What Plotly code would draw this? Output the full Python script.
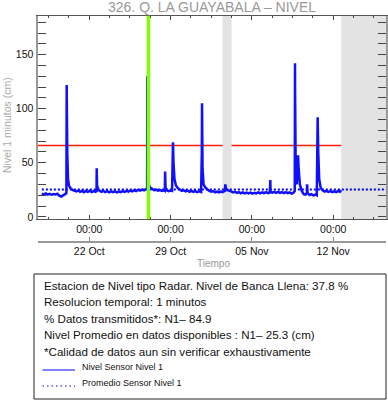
import plotly.graph_objects as go

# ---------------- data ----------------
times = [
    "2023-10-17 22:00", "2023-10-18 02:00", "2023-10-18 06:00", "2023-10-18 10:00", "2023-10-18 14:00",
    "2023-10-18 18:00", "2023-10-18 22:00", "2023-10-19 02:00", "2023-10-19 06:00", "2023-10-19 10:00",
    "2023-10-19 14:00", "2023-10-19 18:00", "2023-10-19 22:00", "2023-10-20 00:40", "2023-10-20 01:00",
    "2023-10-20 01:15", "2023-10-20 01:20", "2023-10-20 01:25", "2023-10-20 02:30", "2023-10-20 04:00",
    "2023-10-20 06:00", "2023-10-20 09:00", "2023-10-20 13:00", "2023-10-20 17:00", "2023-10-20 21:00",
    "2023-10-21 01:00", "2023-10-21 05:00", "2023-10-21 09:00", "2023-10-21 13:00", "2023-10-21 17:00",
    "2023-10-21 21:00", "2023-10-22 01:00", "2023-10-22 05:00", "2023-10-22 09:00", "2023-10-22 13:00",
    "2023-10-22 15:00", "2023-10-22 15:20", "2023-10-22 16:00", "2023-10-22 18:00", "2023-10-22 21:00",
    "2023-10-23 01:00", "2023-10-23 05:00", "2023-10-23 09:00", "2023-10-23 13:00", "2023-10-23 17:00",
    "2023-10-23 21:00", "2023-10-24 01:00", "2023-10-24 05:00", "2023-10-24 09:00", "2023-10-24 13:00",
    "2023-10-24 17:00", "2023-10-24 21:00", "2023-10-25 01:00", "2023-10-25 05:00", "2023-10-25 09:00",
    "2023-10-25 13:00", "2023-10-25 17:00", "2023-10-25 21:00", "2023-10-26 01:00", "2023-10-26 05:00",
    "2023-10-26 09:00", "2023-10-26 13:00", "2023-10-26 17:00", "2023-10-26 21:00", "2023-10-26 23:30",
    "2023-10-26 23:50", "2023-10-27 00:00", "2023-10-27 00:10", "2023-10-27 01:00", "2023-10-27 03:00",
    "2023-10-27 06:00", "2023-10-27 10:00", "2023-10-27 14:00", "2023-10-27 18:00", "2023-10-27 22:00",
    "2023-10-28 02:00", "2023-10-28 06:00", "2023-10-28 10:00", "2023-10-28 12:00", "2023-10-28 12:40",
    "2023-10-28 13:30", "2023-10-28 16:00", "2023-10-28 20:00", "2023-10-29 00:00", "2023-10-29 03:00",
    "2023-10-29 04:30", "2023-10-29 04:50", "2023-10-29 06:00", "2023-10-29 08:00", "2023-10-29 11:00",
    "2023-10-29 15:00", "2023-10-29 19:00", "2023-10-29 23:00", "2023-10-30 03:00", "2023-10-30 07:00",
    "2023-10-30 11:00", "2023-10-30 15:00", "2023-10-30 19:00", "2023-10-30 23:00", "2023-10-31 03:00",
    "2023-10-31 07:00", "2023-10-31 11:00", "2023-10-31 15:00", "2023-10-31 16:30", "2023-10-31 16:50",
    "2023-10-31 16:55", "2023-10-31 17:00", "2023-10-31 18:00", "2023-10-31 20:00", "2023-11-01 00:00",
    "2023-11-01 04:00", "2023-11-01 08:00", "2023-11-01 12:00", "2023-11-01 16:00", "2023-11-01 20:00",
    "2023-11-02 00:00", "2023-11-02 04:00", "2023-11-02 08:00", "2023-11-02 11:00", "2023-11-02 16:00",
    "2023-11-02 17:00", "2023-11-02 19:00", "2023-11-03 05:00", "2023-11-03 09:00", "2023-11-03 13:00",
    "2023-11-03 17:00", "2023-11-03 21:00", "2023-11-04 01:00", "2023-11-04 05:00", "2023-11-04 09:00",
    "2023-11-04 13:00", "2023-11-04 17:00", "2023-11-04 21:00", "2023-11-05 01:00", "2023-11-05 05:00",
    "2023-11-05 09:00", "2023-11-05 13:00", "2023-11-05 17:00", "2023-11-05 21:00", "2023-11-06 01:00",
    "2023-11-06 05:00", "2023-11-06 09:00", "2023-11-06 13:00", "2023-11-06 14:00", "2023-11-06 14:30",
    "2023-11-06 18:00", "2023-11-06 22:00", "2023-11-07 02:00", "2023-11-07 06:00", "2023-11-07 10:00",
    "2023-11-07 14:00", "2023-11-07 18:00", "2023-11-07 22:00", "2023-11-08 02:00", "2023-11-08 06:00",
    "2023-11-08 10:00", "2023-11-08 14:00", "2023-11-08 16:30", "2023-11-08 16:50", "2023-11-08 17:00",
    "2023-11-08 17:10", "2023-11-08 18:30", "2023-11-08 20:30", "2023-11-08 23:00", "2023-11-08 23:20",
    "2023-11-09 00:30", "2023-11-09 03:00", "2023-11-09 07:00", "2023-11-09 11:00", "2023-11-09 15:00",
    "2023-11-09 17:30", "2023-11-09 18:00", "2023-11-09 19:00", "2023-11-09 23:00", "2023-11-10 03:00",
    "2023-11-10 07:00", "2023-11-10 11:00", "2023-11-10 14:00", "2023-11-10 15:30", "2023-11-10 15:50",
    "2023-11-10 17:00", "2023-11-10 19:00", "2023-11-10 22:00", "2023-11-11 02:00", "2023-11-11 06:00",
    "2023-11-11 10:00", "2023-11-11 14:00", "2023-11-11 18:00", "2023-11-11 22:00", "2023-11-12 02:00",
    "2023-11-12 06:00", "2023-11-12 10:00", "2023-11-12 14:00", "2023-11-12 16:20",
]
level = [
    21.5, 20.8, 21.6, 20.5, 21.2,
    20.4, 21.0, 20.6, 21.3, 19.5,
    18.8, 19.6, 21.0, 22.0, 60.0,
    115.0, 122.0, 114.0, 60.0, 35.0,
    29.0, 26.5, 25.0, 24.2, 23.6,
    24.3, 23.2, 24.0, 22.8, 23.9,
    23.1, 24.1, 23.0, 23.8, 23.2,
    23.8, 45.0, 30.0, 25.0, 24.0,
    23.2, 24.0, 22.9, 23.7, 22.6,
    23.5, 22.8, 23.6, 22.7, 23.4,
    22.9, 23.8, 23.0, 24.0, 23.3,
    24.2, 23.5, 24.6, 23.9, 25.0,
    24.3, 25.2, 24.5, 25.6, 26.5,
    124.0, 130.0, 123.0, 45.0, 30.0,
    27.0, 25.5, 24.6, 25.1, 24.2,
    24.8, 23.9, 24.5, 24.0, 42.0,
    27.0, 24.5, 23.8, 24.4, 24.0,
    60.0, 69.0, 50.0, 35.0, 29.0,
    26.5, 25.3, 24.1, 24.6, 23.5,
    24.3, 23.2, 24.0, 23.1, 23.8,
    22.8, 23.6, 23.0, 60.0, 100.0,
    105.0, 99.0, 45.0, 30.0, 27.0,
    25.2, 24.0, 23.2, 23.8, 22.7,
    23.4, 22.6, 23.3, 22.8, 24.0,
    30.0, 25.0, 23.5, 22.6, 23.2,
    22.1, 22.9, 21.8, 22.6, 21.7,
    22.5, 21.6, 22.4, 21.5, 22.3,
    21.7, 22.6, 21.8, 22.7, 21.9,
    22.8, 22.0, 22.5, 34.0, 23.0,
    22.4, 23.1, 22.2, 23.0, 22.1,
    22.9, 22.0, 22.8, 21.9, 22.6,
    21.5, 22.3, 24.0, 120.0, 142.0,
    118.0, 40.0, 30.0, 50.0, 57.0,
    45.0, 30.0, 24.0, 21.0, 20.5,
    22.0, 30.0, 22.0, 20.2, 21.0,
    19.8, 20.6, 20.0, 85.0, 92.0,
    60.0, 35.0, 27.0, 24.5, 23.4,
    24.0, 23.0, 23.7, 22.8, 23.6,
    22.9, 23.8, 23.2, 24.5,
]
avg_level = 25.3
bank_level = 66.0
event_times = ["2023-10-27 02:10"]
gap_starts = ["2023-11-02 11:20", "2023-11-12 16:20"]
gap_ends = ["2023-11-03 06:00", "2023-11-16 13:00"]
x_range = ["2023-10-17 13:00", "2023-11-16 13:00"]
y_range = [-2, 186]
first_week_tick = "2023-10-22"

title_text = "326. Q. LA GUAYABALA \u2013 NIVEL"
info_lines = [
    "Estacion de Nivel tipo Radar. Nivel de Banca Llena: 37.8 %",
    "Resolucion temporal: 1 minutos",
    "% Datos transmitidos*: N1\u2013 84.9",
    "Nivel Promedio en datos disponibles : N1\u2013 25.3 (cm)",
    "*Calidad de datos aun sin verificar exhaustivamente",
]
legend_names = ["Nivel Sensor Nivel 1", "Promedio Sensor Nivel 1"]

# ---------------- layout helpers ----------------
W, H = 388, 404
FONT = "Liberation Sans, Arial, sans-serif"
WEEK_MS = 7 * 24 * 3600 * 1000


def px(x):
    return x / W


def py(y):
    return 1 - y / H


fig = go.Figure()

fig.add_trace(go.Scatter(
    x=[times[0], x_range[1]], y=[avg_level, avg_level], mode="lines",
    line=dict(color="#0000ff", width=2, dash="2px,2px"), hoverinfo="skip", showlegend=False))

fig.add_trace(go.Scatter(
    x=[x_range[0], gap_starts[0], None, gap_ends[0], gap_starts[1]],
    y=[bank_level, bank_level, None, bank_level, bank_level], mode="lines",
    line=dict(color="#ff1a00", width=1.5), hoverinfo="skip", showlegend=False, connectgaps=False))

fig.add_trace(go.Scatter(
    x=times, y=level, mode="lines",
    line=dict(color="#1010ff", width=2.5), showlegend=False))

fig.add_trace(go.Scatter(
    x=x_range, y=[None, None], xaxis="x2", yaxis="y", mode="lines",
    hoverinfo="skip", showlegend=False))

for s, e in zip(gap_starts, gap_ends):
    fig.add_shape(type="rect", xref="x", yref="y domain", x0=s, x1=e, y0=0, y1=1,
                  fillcolor="#e3e3e3", line_width=0, layer="below")

for t in event_times:
    fig.add_shape(type="line", xref="x", yref="y domain", x0=t, x1=t, y0=0, y1=1,
                  line=dict(color="#7fff00", width=3.5), layer="above")

x_dom = [px(37.5), px(386)]
fig.update_layout(
    template="none",
    width=W, height=H,
    margin=dict(l=0, r=0, t=0, b=0, pad=0, autoexpand=False),
    paper_bgcolor="white", plot_bgcolor="white",
    font=dict(family=FONT, size=10.5, color="#111"),
    showlegend=False,
    xaxis=dict(
        domain=x_dom, range=x_range, type="date", automargin=False,
        tick0=first_week_tick, dtick=WEEK_MS, tickformat="%H:%M",
        ticks="inside", ticklen=4, tickcolor="#444",
        minor=dict(dtick=WEEK_MS / 4, tick0=first_week_tick, ticks="inside", ticklen=2.5, tickcolor="#444", showgrid=False),
        showline=True, linecolor="#555", linewidth=1, mirror="allticks",
        showgrid=False, zeroline=False, tickfont=dict(size=10.5, color="#111"),
    ),
    xaxis2=dict(
        overlaying="x", anchor="free", position=py(242), range=x_range, type="date", automargin=False,
        tick0=first_week_tick, dtick=WEEK_MS, tickformat="%d %b",
        ticks="inside", ticklen=4, tickcolor="#888",
        showline=True, linecolor="#999", linewidth=1.5,
        showgrid=False, zeroline=False, side="bottom", tickfont=dict(size=10.5, color="#111"),
    ),
    yaxis=dict(
        domain=[py(219), py(15.7)], range=y_range, automargin=False,
        tick0=0, dtick=50,
        ticks="inside", ticklen=8, tickcolor="#444",
        minor=dict(dtick=10, tick0=0, ticks="inside", ticklen=4.5, tickcolor="#444", showgrid=False),
        showline=True, linecolor="#999", linewidth=2, mirror="allticks",
        showgrid=False, zeroline=False, tickfont=dict(size=10.5, color="#111"),
    ),
)

annotations = [
    dict(x=px(212), y=py(7), text=title_text, showarrow=False, xanchor="center", yanchor="middle",
         font=dict(size=14, color="#999")),
    dict(x=px(213), y=py(263.5), text="Tiempo", showarrow=False, xanchor="center", yanchor="middle",
         font=dict(size=10, color="#999")),
    dict(x=px(7), y=py(125), text="Nivel 1 minutos (cm)", showarrow=False, textangle=-90,
         xanchor="center", yanchor="middle", font=dict(size=10.5, color="#aaa")),
]
line_y = [285, 301.5, 318, 334.5, 351]
for txt, yy in zip(info_lines, line_y):
    annotations.append(dict(x=px(42), y=py(yy), text=txt, showarrow=False, xanchor="left",
                            yanchor="middle", font=dict(size=11.6, color="#111")))
leg_y = [367, 383]
for txt, yy in zip(legend_names, leg_y):
    annotations.append(dict(x=px(80), y=py(yy), text=txt, showarrow=False, xanchor="left",
                            yanchor="middle", font=dict(size=9, color="#111")))
for a in annotations:
    a.update(xref="paper", yref="paper")
fig.update_layout(annotations=annotations)

fig.add_shape(type="rect", xref="paper", yref="paper", x0=px(34), x1=px(386), y0=py(399), y1=py(274),
              line=dict(color="#222", width=1), fillcolor="rgba(0,0,0,0)")
fig.add_shape(type="line", xref="paper", yref="paper", x0=px(42.5), x1=px(75), y0=py(370), y1=py(370),
              line=dict(color="#0000ff", width=1.2))
fig.add_shape(type="line", xref="paper", yref="paper", x0=px(42.5), x1=px(75), y0=py(386), y1=py(386),
              line=dict(color="#0000ff", width=1.2, dash="1.5px,3px"))

fig.write_html("out.html", config={"displayModeBar": False},
               post_script="document.body.style.margin='0';")
